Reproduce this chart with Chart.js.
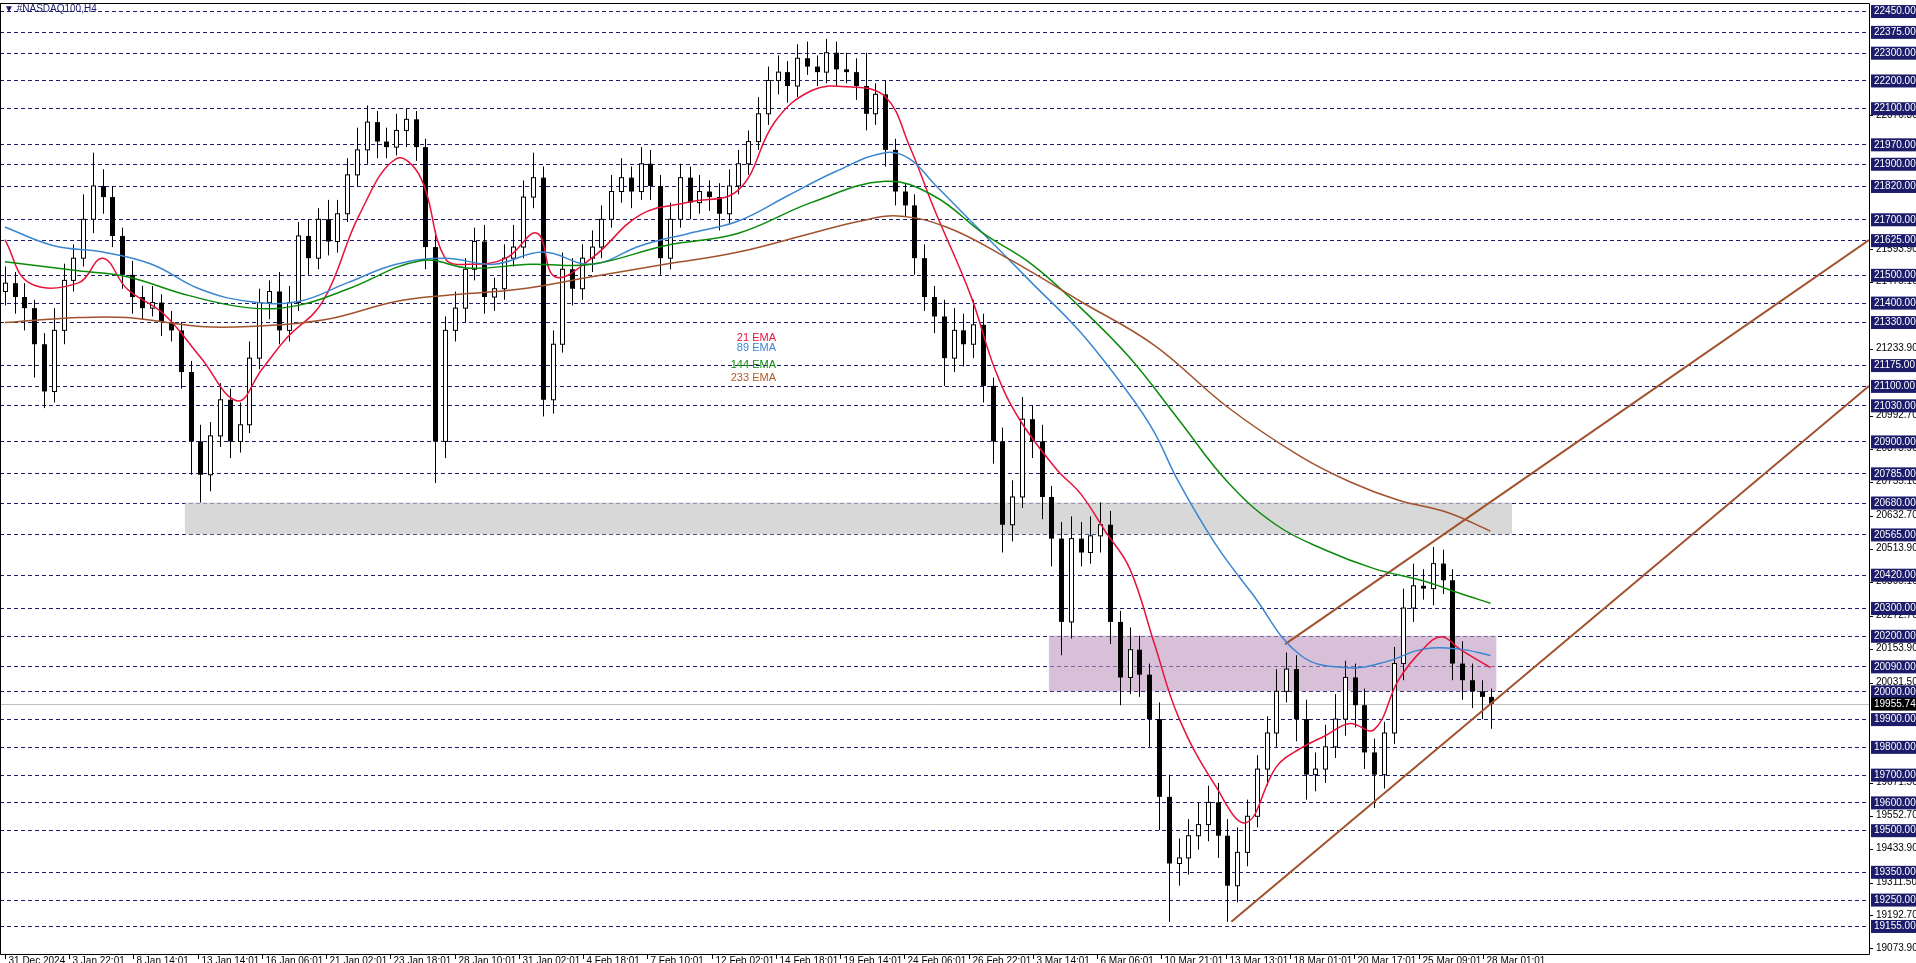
<!DOCTYPE html>
<html><head><meta charset="utf-8">
<script src="https://cdn.jsdelivr.net/npm/chart.js@4.4.1/dist/chart.umd.min.js"></script>
<style>html,body{margin:0;padding:0;background:#fff}#w{width:1916px;height:963px}</style>
</head><body><div id="w"><canvas id="c"></canvas></div>
<script>
const closes=[21470,21420,21380,21250,21080,21300,21480,21560,21700,21820,21780,21640,21500,21420,21380,21400,21330,21300,21150,20900,20780,20920,21050,20900,20960,21200,21400,21440,21300,21400,21640,21560,21700,21620,21720,21860,21950,22050,21980,21960,22020,22060,21960,21600,20900,21300,21380,21520,21620,21420,21450,21560,21600,21780,21850,21050,21250,21520,21450,21560,21600,21700,21800,21850,21800,21900,21820,21560,21700,21850,21760,21800,21780,21720,21820,21900,21980,22080,22200,22230,22180,22280,22250,22230,22300,22240,22230,22180,22080,22150,21950,21800,21750,21560,21420,21350,21200,21300,21250,21320,21100,20900,20600,20700,20980,20900,20700,20550,20250,20550,20500,20560,20600,20250,20050,20150,20060,19900,19620,19380,19400,19480,19520,19600,19480,19300,19420,19550,19720,19850,20000,20080,19900,19700,19720,19800,19900,20050,19950,19780,19700,19850,20100,20300,20380,20370,20460,20400,20100,20040,20000,19980,19955];
const firstOpen=21440;
const wickUp=[60,40,50,30,40,80,60,50,90,120,60,40,30,50,40,60,30,40,30,40,60,50,60,40,80,60,50,40,70,60,50,60,40,70,50,60,80,60,40,50,60,40,30,30,60,50,60,40,50,60,40,50,80,60,90,40,50,60,40,50,60,50,60,70,40,60,50,40,60,50,40,60,40,50,60,50,40,60,50,60,40,50,60,40,50,40,60,50,120,40,50,40,30,40,50,40,60,80,60,90,40,30,50,60,80,50,60,40,60,80,60,70,80,50,40,80,50,40,60,80,70,60,80,60,70,60,90,60,50,60,80,60,50,70,60,80,90,60,50,60,50,40,60,70,80,60,60,50,40,80,60,40,30];
const wickDn=[50,60,80,120,60,40,50,40,30,50,60,40,50,60,40,30,50,40,60,120,100,60,40,60,40,30,40,60,50,40,30,60,40,50,40,30,40,50,60,40,30,60,50,80,150,60,40,50,40,60,50,40,30,40,40,60,50,30,60,40,50,40,30,40,60,30,50,60,40,30,60,40,50,60,40,30,40,30,40,50,60,40,30,50,40,60,40,50,60,40,60,50,40,60,50,60,100,50,80,50,60,80,100,60,40,60,80,100,120,60,50,40,60,80,100,60,80,100,120,210,80,60,50,60,80,130,60,50,40,60,50,40,80,90,60,50,40,60,80,60,120,50,40,60,50,40,60,50,60,70,60,80,90];
const ema21Bar=[0,2.5,7.5,10,12.5,16.25,20,23.75,26.25,28.75,32.5,36.25,40,42.5,45,47.5,51.25,54.4,56.25,60,65,70,75,78.75,82.5,86.25,90,92.5,95,98.75,101.25,103.75,107.5,110,112.5,115,117.5,120,123.75,126.9,130,132.5,135,137.5,140,142.5,145,146.9,148.75,151.9];
const ema21Val=[21627,21471,21471,21560,21449,21359,21203,21046,21158,21270,21404,21717,21918,21851,21560,21538,21560,21650,21493,21560,21717,21762,21806,22052,22164,22177,22142,21963,21739,21426,21158,20979,20801,20711,20577,20443,20175,19907,19661,19527,19728,19795,19840,19884,19862,20041,20152,20197,20152,20085];
const ema89Bar=[0,5,10,15,20,25,30,35,40,45,50,55,60,65,70,75,80,85,90,92.5,95,100,105,110,115,117.5,120,123.75,127.5,132.5,137.5,141.25,145,148.75,151.9];
const ema89Val=[21672,21605,21582,21538,21448,21404,21404,21471,21538,21560,21538,21582,21538,21605,21650,21694,21784,21873,21940,21918,21828,21650,21471,21292,21068,20934,20755,20532,20353,20129,20085,20107,20152,20152,20129];
const ema144Bar=[0,7.5,12.5,18.75,25,30,35,42.5,47.5,53.75,60,67.5,75,82.5,90,95,100,105,110,115,120,125,130,135,140,145,148.75,151.9];
const ema144Val=[21547,21515,21493,21426,21381,21390,21448,21551,21524,21538,21538,21605,21650,21761,21837,21784,21650,21538,21381,21202,20979,20755,20599,20509,20442,20398,20353,20317];
const ema233Bar=[0,7.5,12.5,20,25,32.5,40,45,52.5,60,67.5,75,82.5,87.5,91.25,96.25,102.5,110,117.5,125,132.5,137.5,142.5,147.5,151.9];
const ema233Val=[21328,21346,21346,21314,21314,21337,21404,21426,21448,21493,21538,21582,21650,21694,21712,21672,21560,21404,21247,21024,20845,20755,20688,20644,20577];
const levels=[22450,22375,22300,22200,22100,21970,21900,21820,21700,21625,21500,21400,21330,21175,21100,21030,20900,20785,20680,20565,20420,20300,20200,20090,20000,19900,19800,19700,19600,19500,19350,19250,19155];
const priceTicks=[22076.30,21593.90,21475.10,21233.90,20992.70,20873.90,20755.10,20632.70,20513.90,20395.10,20272.70,20153.90,20031.50,19671.50,19552.70,19433.90,19311.50,19192.70,19073.90];
const dateLabels=["31 Dec 2024","3 Jan 22:01","8 Jan 14:01","13 Jan 14:01","16 Jan 06:01","21 Jan 02:01","23 Jan 18:01","28 Jan 10:01","31 Jan 02:01","4 Feb 18:01","7 Feb 10:01","12 Feb 02:01","14 Feb 18:01","19 Feb 14:01","24 Feb 06:01","26 Feb 22:01","3 Mar 14:01","6 Mar 06:01","10 Mar 21:01","13 Mar 13:01","18 Mar 01:01","20 Mar 17:01","25 Mar 09:01","28 Mar 01:01"];
const currentPrice=19955.74;
const grayZone={x0:18.4,x1:154.1,y0:20565,y1:20680};
const purpleZone={x0:106.75,x1:152.5,y0:20000,y1:20200};
const lowerTrend=[{x:125.4,y:19170},{x:190.6,y:21100}];
const upperTrend=[{x:130.9,y:20170},{x:190.6,y:21625}];

const pts=(b,v)=>b.map((x,i)=>({x,y:v[i]}));
const FONT='10px "Liberation Sans",Arial,sans-serif';

const plugin={id:'mt4',
beforeDatasetsDraw(ch){
  const {ctx,scales:{x,y},chartArea:a}=ch;
  ctx.save();
  ctx.strokeStyle='#1a1a6e';ctx.lineWidth=1;ctx.setLineDash([4,3]);
  levels.forEach(l=>{const py=Math.round(y.getPixelForValue(l))+0.5;ctx.beginPath();ctx.moveTo(a.left,py);ctx.lineTo(a.right,py);ctx.stroke();});
  ctx.setLineDash([]);
  const z=(o,c)=>{ctx.fillStyle=c;const X0=x.getPixelForValue(o.x0),X1=x.getPixelForValue(o.x1),Y0=y.getPixelForValue(o.y1),Y1=y.getPixelForValue(o.y0);ctx.fillRect(X0,Y0,X1-X0,Y1-Y0);};
  z(grayZone,'rgba(200,200,200,0.7)');z(purpleZone,'rgba(190,150,190,0.6)');
  const cp=Math.round(y.getPixelForValue(currentPrice))+0.5;
  ctx.strokeStyle='#c0c0c0';ctx.beginPath();ctx.moveTo(a.left,cp);ctx.lineTo(a.right,cp);ctx.stroke();
  const w=4;
  closes.forEach((c,i)=>{
    const o=i?closes[i-1]:firstOpen;
    const hi=Math.max(o,c)+wickUp[i],lo=Math.min(o,c)-wickDn[i];
    const px=Math.round(x.getPixelForValue(i))+0.5;
    ctx.strokeStyle='#000';ctx.lineWidth=1;
    ctx.beginPath();ctx.moveTo(px,y.getPixelForValue(hi));ctx.lineTo(px,y.getPixelForValue(lo));ctx.stroke();
    const t=y.getPixelForValue(Math.max(o,c)),b=y.getPixelForValue(Math.min(o,c));
    if(c>=o){ctx.fillStyle='#fff';ctx.fillRect(px-w/2,t,w,Math.max(b-t,1));ctx.strokeRect(px-w/2,t,w,Math.max(b-t,1));}
    else{ctx.fillStyle='#000';ctx.fillRect(px-w/2-0.5,t,w+1,Math.max(b-t,1));}
  });
  ctx.restore();
},
afterDraw(ch){
  const {ctx,scales:{x,y},chartArea:a}=ch;
  ctx.save();
  ctx.strokeStyle='#000';ctx.lineWidth=1;
  ctx.beginPath();ctx.moveTo(a.left+0.5,a.top);ctx.lineTo(a.left+0.5,a.bottom+0.5);ctx.lineTo(a.right+0.5,a.bottom+0.5);ctx.lineTo(a.right+0.5,a.top+0.5);ctx.lineTo(a.left,a.top+0.5);ctx.stroke();
  ctx.font=FONT;ctx.textBaseline='middle';
  priceTicks.forEach(p=>{const py=y.getPixelForValue(p);ctx.fillStyle='#000';ctx.fillRect(a.right,Math.round(py),4,1);ctx.fillText(p.toFixed(2),a.right+7,py);});
  levels.forEach(l=>{const py=y.getPixelForValue(l);ctx.fillStyle='#1c1c6b';ctx.fillRect(a.right+2,py-6,46,13);ctx.fillStyle='#fff';ctx.fillText(l.toFixed(2),a.right+5,py+0.5);});
  const cp=y.getPixelForValue(currentPrice);
  ctx.fillStyle='#000';ctx.fillRect(a.right+2,cp-6,46,13);ctx.fillStyle='#fff';ctx.fillText(currentPrice.toFixed(2),a.right+5,cp+0.5);
  ctx.fillStyle='#000';ctx.textBaseline='top';
  dateLabels.forEach((d,k)=>{const px=Math.round(x.getPixelForValue(k*6.57))+0.5;ctx.beginPath();ctx.moveTo(px,a.bottom);ctx.lineTo(px,a.bottom+5);ctx.stroke();ctx.fillText(d,px+3,a.bottom+2);});
  ctx.fillStyle='#1c1c6b';ctx.textBaseline='middle';ctx.fillText('▼ #NASDAQ100,H4',4,9);
  ctx.font='11px "Liberation Sans",Arial,sans-serif';ctx.textAlign='right';
  [['21 EMA','#e8113a',338],['89 EMA','#3b86d0',348],['144 EMA','#0a8a0a',365],['233 EMA','#b05a2a',378]].forEach(([t,c,py])=>{ctx.fillStyle=c;ctx.fillText(t,776,py);});
  ctx.restore();
}};
const line=(data,color,w)=>({type:'line',data,borderColor:color,borderWidth:w,pointRadius:0,tension:0.4,fill:false});
new Chart(document.getElementById('c'),{
  data:{datasets:[
    line(pts(ema233Bar,ema233Val),'#a0522d',1.5),
    line(pts(ema144Bar,ema144Val),'#0a8a0a',1.5),
    line(pts(ema89Bar,ema89Val),'#3b86d0',1.5),
    line(pts(ema21Bar,ema21Val),'#e8113a',1.5),
    {...line(lowerTrend,'#a0522d',2),tension:0},
    {...line(upperTrend,'#a0522d',2),tension:0}
  ]},
  options:{responsive:true,maintainAspectRatio:false,animation:false,
    layout:{padding:{left:0,top:3,right:47,bottom:9}},
    plugins:{legend:{display:false},tooltip:{enabled:false}},
    scales:{x:{type:'linear',min:-0.5,max:190.6,display:false},y:{min:19054,max:22479,display:false}}},
  plugins:[plugin]});
</script></body></html>
